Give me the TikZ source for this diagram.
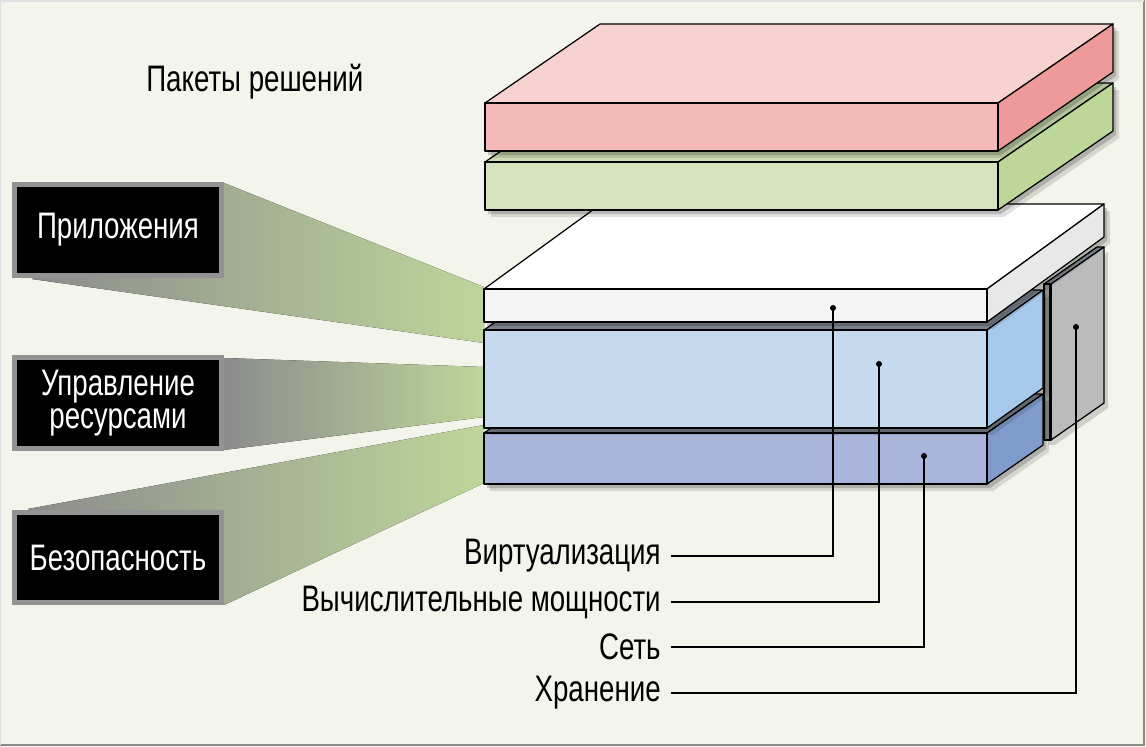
\documentclass[tikz,border=0pt]{standalone}
\usepackage{fontspec}
\setmainfont{Liberation Sans}[FakeStretch=0.75]
\definecolor{bgc}{HTML}{F3F4EC}
\definecolor{frame}{HTML}{8A8A8A}
\definecolor{boxborder}{HTML}{939393}
\definecolor{beamL}{HTML}{8C8C8C}
\definecolor{beamR}{HTML}{BDD69A}
\definecolor{pinkF}{HTML}{F4BAB7}
\definecolor{pinkT}{HTML}{F8D2CF}
\definecolor{pinkS}{HTML}{EE9A9A}
\definecolor{greenF}{HTML}{D4E3BE}
\definecolor{greenT}{HTML}{CCDDB2}
\definecolor{greenS}{HTML}{BCD797}
\definecolor{whiteF}{HTML}{F5F5F5}
\definecolor{whiteT}{HTML}{FFFFFF}
\definecolor{whiteS}{HTML}{E8E8E8}
\definecolor{blueF}{HTML}{C5D9EF}
\definecolor{blueS}{HTML}{A6C8EA}
\definecolor{shadeT}{HTML}{8A929C}
\definecolor{netF}{HTML}{A9B5DB}
\definecolor{netS}{HTML}{7F9BCC}
\definecolor{storS}{HTML}{BBBBBB}
\definecolor{storF}{HTML}{8E8E8E}
\newcommand\drawslab[9]{%
  \fill[black,opacity=.12,shift={(6,7)}] (#1,#2) -- ({#1+#5},{#2+#6}) -- ({#3+#5},{#2+#6}) -- ({#3+#5},{#4+#6}) -- (#3,#4) -- (#1,#4) -- cycle;
  \fill[black,opacity=.18,shift={(3,4)}] (#1,#2) -- ({#1+#5},{#2+#6}) -- ({#3+#5},{#2+#6}) -- ({#3+#5},{#4+#6}) -- (#3,#4) -- (#1,#4) -- cycle;
  \filldraw[slabline,fill=#8] (#1,#2) -- (#3,#2) -- ({#3+#5},{#2+#6}) -- ({#1+#5},{#2+#6}) -- cycle;
  \filldraw[slabline,fill=#9] (#3,#2) -- ({#3+#5},{#2+#6}) -- ({#3+#5},{#4+#6}) -- (#3,#4) -- cycle;
  \filldraw[slabline,fill=#7] (#1,#2) rectangle (#3,#4);
}
\begin{document}
\begin{tikzpicture}[x=0.02cm,y=-0.02cm,
  slabline/.style={draw=black,line width=0.7pt,line join=round},
  blackbox/.style={fill=black,draw=boxborder,line width=0.1cm,text=white,
    minimum width=4.14cm,minimum height=1.82cm,align=center,inner sep=0pt,
    font=\fontsize{21}{19}\selectfont},
  lbl/.style={anchor=east,inner xsep=0.2cm,inner ysep=0pt,font=\fontsize{21}{22}\selectfont},
  dot/.style={circle,fill=black,inner sep=0pt,minimum size=0.12cm},
  leader/.style={draw=black,line width=0.6pt},
  beam/.style={left color=beamL,right color=beamR}]
\useasboundingbox (0,0) rectangle (1146,747);
\fill[bgc] (0,0) rectangle (1146,747);
\draw[frame,line width=0.05cm] (0,745) -- (1144,745) -- (1144,0);
\draw[black!12,line width=0.03cm] (0,745) -- (0,1) -- (1144,1);

% beams
\fill[beam] (224,183) -- (484,287) -- (484,343) -- (32,279) -- cycle;
\fill[beam] (224,358) -- (484,367) -- (484,417) -- (224,450) -- cycle;
\fill[beam] (28,509) -- (484,425) -- (484,483) -- (224,605) -- cycle;

% black boxes
\node[blackbox] (app) at (118,230) {Приложения};
\node[blackbox] (res) at (118,403) {Управление\\ресурсами};
\node[blackbox] (sec) at (118,557.5) {Безопасность};

% title
\node[font=\fontsize{21}{22}\selectfont,anchor=west,inner sep=0pt] (title) at (146,82) {Пакеты решений};

% storage box
\fill[black,opacity=.15,shift={(4,5)}] (1044,284) -- (1104,247) -- (1104,403) -- (1051,440) -- (1044,440) -- cycle;
\filldraw[slabline,fill=shadeT] (1044,284) -- (1051,284) -- (1104,247) -- (1097,247) -- cycle;
\filldraw[slabline,fill=storS] (1051,284) -- (1104,247) -- (1104,403) -- (1051,440) -- cycle;
\filldraw[slabline,fill=storF] (1044,284) rectangle (1051,440);
\draw[black,line width=1.6pt] (1050,285) -- (1050,440);

% stack
\drawslab{484}{433}{987}{484}{56}{-39}{netF}{shadeT}{netS}
\drawslab{484}{330}{987}{428}{56}{-40}{blueF}{shadeT}{blueS}
\drawslab{484}{289}{987}{322}{117}{-85}{whiteF}{whiteT}{whiteS}
\drawslab{485}{162}{998}{210}{115}{-79}{greenF}{greenT}{greenS}
\drawslab{485}{103}{998}{151}{115}{-79}{pinkF}{pinkT}{pinkS}

% dots
\node[dot] (dv) at (833,308) {};
\node[dot] (dc) at (879,364) {};
\node[dot] (dn) at (924,456) {};
\node[dot] (ds) at (1076,327) {};

% labels
\node[lbl] (lv) at (671,556) {Виртуализация};
\node[lbl] (lc) at (671,602) {Вычислительные мощности};
\node[lbl] (ln) at (671,647) {Сеть};
\node[lbl] (ls) at (671,693) {Хранение};

\draw[leader] (dv.center) |- (lv.east);
\draw[leader] (dc.center) |- (lc.east);
\draw[leader] (dn.center) |- (ln.east);
\draw[leader] (ds.center) |- (ls.east);
\end{tikzpicture}
\end{document}
